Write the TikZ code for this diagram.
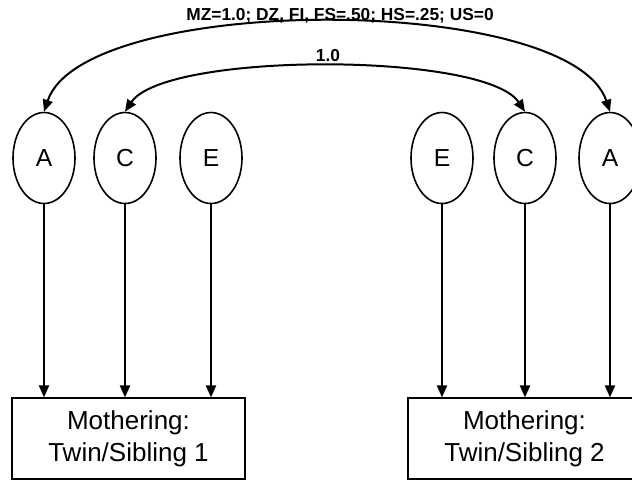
\documentclass[tikz,border=0pt]{standalone}
\usepackage{fontspec}
\setmainfont{Liberation Sans}
\usetikzlibrary{shapes.geometric,arrows.meta}
\begin{document}
\begin{tikzpicture}[x=0.75pt,y=-0.75pt,
  latent/.style={draw,ellipse,line width=1.2pt,minimum width=46.5pt,minimum height=68.25pt,inner sep=0pt,font=\fontsize{18.5pt}{22pt}\selectfont},
  obs/.style={draw,rectangle,line width=0.8pt,minimum width=174.75pt,minimum height=60.75pt,inner sep=0pt,align=center,font=\fontsize{19.5pt}{24pt}\selectfont},
  path/.style={line width=1.4pt,-{Triangle[length=9pt,width=7.5pt]}},
  cov/.style={line width=1.5pt,{Triangle[length=9pt,width=7.5pt]}-{Triangle[length=9pt,width=7.5pt]}},
  lab/.style={font=\bfseries\fontsize{13pt}{15pt}\selectfont,inner sep=0pt}]
\useasboundingbox (0,0) rectangle (632,480);
\node[latent] (A1) at (44,158) {A};
\node[latent] (C1) at (125,158) {C};
\node[latent] (E1) at (211,158) {E};
\node[latent] (E2) at (442,158) {E};
\node[latent] (C2) at (525,158) {C};
\node[latent] (A2) at (610,158) {A};
\node[obs] (M1) at (128.5,438.5) {Mothering:\\Twin/Sibling 1};
\node[obs] (M2) at (524.5,438.5) {Mothering:\\Twin/Sibling 2};
\foreach \n/\m in {A1/M1,C1/M1,E1/M1,E2/M2,C2/M2,A2/M2}
  \draw[path] (\n.south) -- (\n.south |- \m.north);
\draw[cov] (A1.north) .. controls +(40,-119) and +(-40,-119) .. (A2.north);
\draw[cov] (C1.north) .. controls +(40,-60) and +(-40,-60) .. (C2.north);
\node[lab] (L1) at (340,16) {MZ=1.0; DZ, FI, FS=.50; HS=.25; US=0};
\node[lab] (L2) at (328,56) {1.0};
\end{tikzpicture}
\end{document}
